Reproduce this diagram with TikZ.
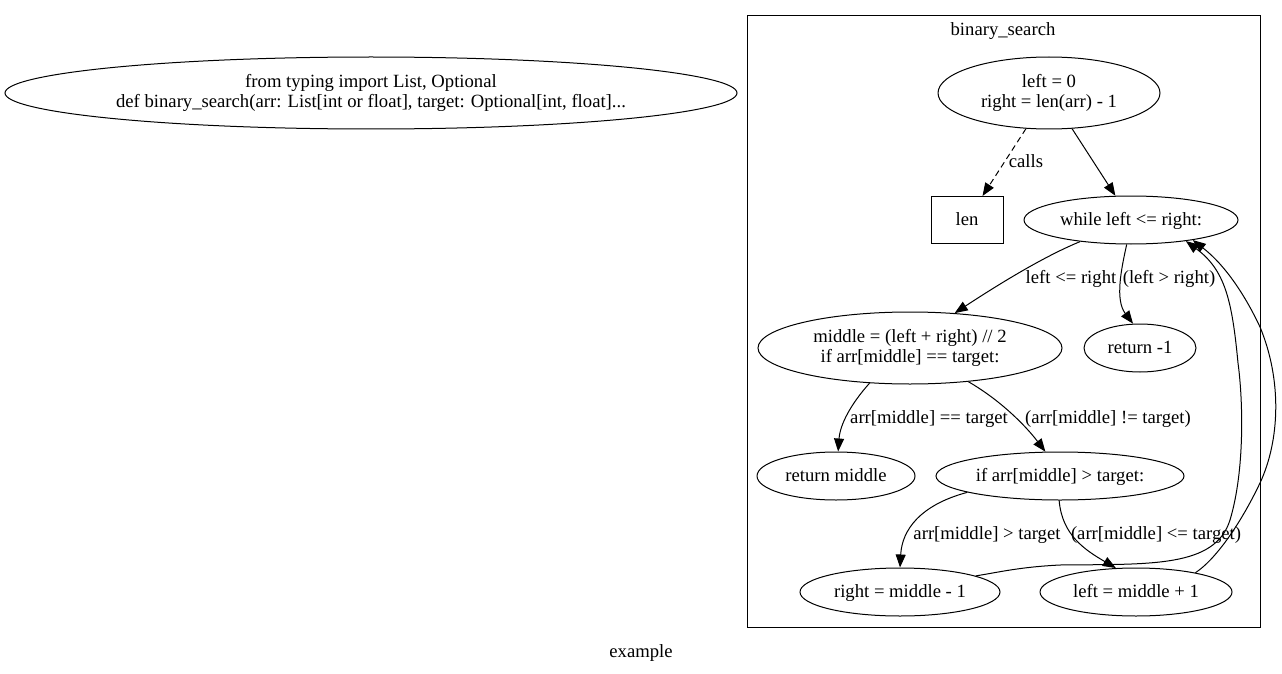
\documentclass[tikz,border=0pt]{standalone}
\usepackage{fontspec}
\setmainfont{Liberation Serif}
\usetikzlibrary{arrows.meta,shapes.geometric}
\begin{document}
\begin{tikzpicture}[x=1pt,y=-1pt,
  every node/.style={font=\fontsize{18.67}{20}\selectfont, inner sep=0pt},
  one/.style={text height=15pt, text depth=4pt},
  elli/.style={draw, ellipse, line width=1pt, align=center},
  boxn/.style={draw, rectangle, line width=1pt},
  edge/.style={line width=1pt, -{Triangle[length=13pt,width=10pt]}}]
\useasboundingbox (0,0) rectangle (1282,674);
% cluster
\draw[line width=1pt] (747,16) rectangle (1260,627);
\node[one] (ctitle) at (1003,30) {binary\_search};
\node[one] (title) at (641,652) {example};
% nodes
\node[elli, minimum width=732pt, minimum height=72pt] (code) at (371,93)
  {from typing import List, Optional\\def binary\_search(arr: List[int or float], target: Optional[int, float]...};
\node[elli, minimum width=222pt, minimum height=72pt] (start) at (1049,93) {left = 0\\right = len(arr) - 1};
\node[boxn, one, minimum width=72pt, minimum height=47pt] (len) at (967,220) {len};
\node[elli, one, minimum width=214pt, minimum height=48pt] (while) at (1131,220) {while left <= right:};
\node[elli, minimum width=304pt, minimum height=72pt] (middle) at (910,348) {middle = (left + right) // 2\\if arr[middle] == target:};
\node[elli, one, minimum width=112pt, minimum height=48pt] (ret1) at (1140,348) {return -1};
\node[elli, one, minimum width=158pt, minimum height=48pt] (retmid) at (836,476) {return middle};
\node[elli, one, minimum width=248pt, minimum height=48pt] (ifn) at (1060,476) {if arr[middle] > target:};
\node[elli, one, minimum width=200pt, minimum height=48pt] (right) at (900,592) {right = middle - 1};
\node[elli, one, minimum width=192pt, minimum height=48pt] (left) at (1136,592) {left = middle + 1};
% edges
\draw[edge, dashed, dash pattern=on 6pt off 4pt] (start) -- (len);
\node[one] (lcalls) at (1026,162) {calls};
\draw[edge] (start) -- (while);
\draw[edge] (while.203) .. controls (1040,258) and (990,290) .. (middle.38);
\node[one] (l1) at (1071,278) {left <= right};
\draw[edge] (while.260) .. controls (1121,270) and (1115,300) .. (ret1.106);
\node[one] (l2) at (1169,278) {(left > right)};
\draw[edge] (middle.221) .. controls (850,405) and (840,425) .. (retmid.85);
\node[one] (l3) at (929,418) {arr[middle] == target};
\draw[edge] (middle.330) .. controls (1000,400) and (1025,425) .. (ifn.121);
\node[one] (l4) at (1108,418) {(arr[middle] != target)};
\draw[edge] (ifn.190) .. controls (920,505) and (902,530) .. (right.90);
\node[one] (l5) at (987,534) {arr[middle] > target};
\draw[edge] (ifn.268) .. controls (1062,535) and (1085,550) .. (left.130);
\node[one] (l6) at (1156,534) {(arr[middle] <= target)};
% back edges
\draw[edge] (right.12) .. controls (1000,572) and (1020,567) .. (1060,565)
  .. controls (1150,564) and (1215,568) .. (1230,520)
  .. controls (1245,470) and (1243,400) .. (1238,363)
  .. controls (1232,300) and (1225,270) .. (while.339);
\draw[edge] (left.18) .. controls (1215,560) and (1240,525) .. (1260,483)
  .. controls (1280,440) and (1282,380) .. (1260,327)
  .. controls (1245,295) and (1225,265) .. (while.342);
\end{tikzpicture}
\end{document}
